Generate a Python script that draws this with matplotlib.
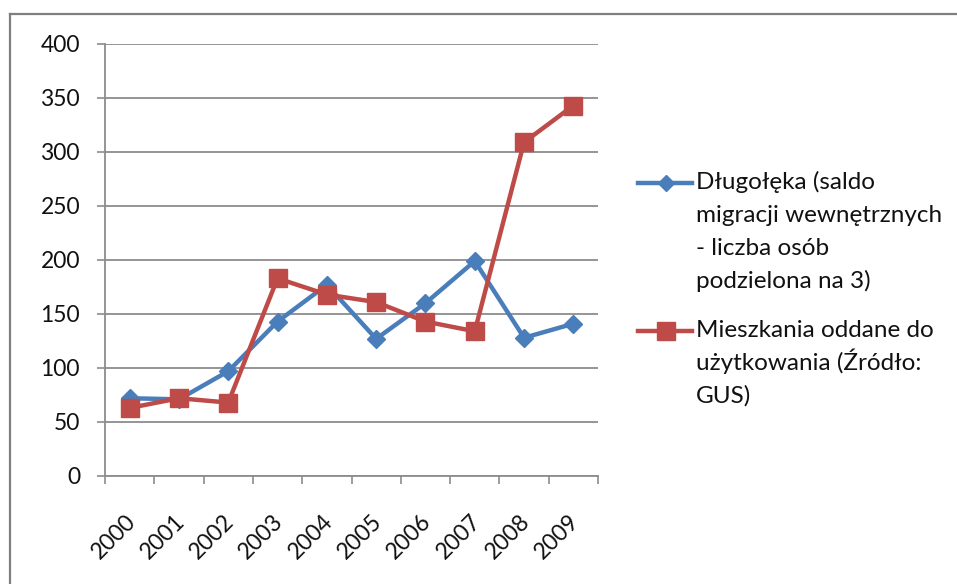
import matplotlib
matplotlib.use("Agg")
import matplotlib.pyplot as plt
from matplotlib.lines import Line2D
from matplotlib.transforms import ScaledTranslation
import numpy as np

years = ["2000", "2001", "2002", "2003", "2004", "2005", "2006", "2007", "2008", "2009"]
dlugoleka = [72, 71, 97, 143, 177, 127, 160, 199, 128, 141]
mieszkania = [63, 72, 68, 183, 168, 161, 143, 134, 309, 343]
legend_blue = ["Długołęka (saldo", "migracji wewnętrznych", "- liczba osób", "podzielona na 3)"]
legend_red = ["Mieszkania oddane do", "użytkowania (Źródło:", "GUS)"]
yticks = [0, 50, 100, 150, 200, 250, 300, 350, 400]

BLUE = "#4A7EBB"
RED = "#BE4B48"
GRID = "#8C8C8C"
TXT = "#111111"
FS = 16.5
FS_LEG = 17.5

plt.rcParams['font.family'] = ['Lato', 'DejaVu Sans']

W, H = 957, 584
fig = plt.figure(figsize=(W / 100, H / 100), dpi=100)
fig.patch.set_facecolor("white")

def fx(px):
    return px / W

def fy(py):
    return 1 - py / H

ax = fig.add_axes([fx(105), fy(476), fx(598) - fx(105), fy(44) - fy(476)])
x = np.arange(len(years))
ax.plot(x, dlugoleka, color=BLUE, lw=3.2, marker="D", ms=9.5, zorder=3)
ax.plot(x, mieszkania, color=RED, lw=3.2, marker="s", ms=12.5, zorder=4)

ax.set_xlim(-0.5, len(years) - 0.5)
ax.set_ylim(0, 400)
ax.set_yticks(yticks)
ax.set_yticklabels([str(v) for v in yticks])
ax.yaxis.grid(True, color=GRID, lw=1.3)
ax.set_axisbelow(True)
ax.tick_params(axis="y", length=6, width=1.2, color=GRID, pad=12, labelsize=FS, labelcolor=TXT)

ax.set_xticks(x)
ax.set_xticklabels(years, rotation=45, ha="right", rotation_mode="anchor")
ax.tick_params(axis="x", which="major", length=0, pad=25, labelsize=FS, labelcolor=TXT)
offset = ScaledTranslation(-5 / 100, 0, fig.dpi_scale_trans)
for lab in ax.get_xticklabels():
    lab.set_transform(lab.get_transform() + offset)
ax.set_xticks(np.arange(-0.5, len(years), 1.0), minor=True)
ax.tick_params(axis="x", which="minor", length=6, width=1.2, color=GRID)

for side in ["top", "right"]:
    ax.spines[side].set_visible(False)
for side in ["left", "bottom"]:
    ax.spines[side].set_color(GRID)
    ax.spines[side].set_linewidth(1.3)

# legend
def legend_entry(y_px, color, marker, ms, lines):
    fig.add_artist(Line2D([fx(638), fx(692)], [fy(y_px), fy(y_px)], color=color, lw=3.2,
                          transform=fig.transFigure))
    fig.add_artist(Line2D([fx(666)], [fy(y_px)], color=color, marker=marker, ms=ms, lw=0,
                          transform=fig.transFigure))
    for i, t in enumerate(lines):
        fig.text(fx(696), fy(y_px + 6 + i * 33), t, fontsize=FS_LEG, color=TXT,
                 ha="left", va="baseline")

legend_entry(183, BLUE, "D", 8, legend_blue)
legend_entry(331, RED, "s", 12.5, legend_red)

# outer border (top and left visible)
fig.add_artist(Line2D([fx(10), fx(960)], [fy(14), fy(14)], color="#7F7F7F", lw=1.6,
                      transform=fig.transFigure))
fig.add_artist(Line2D([fx(10), fx(10)], [fy(14), fy(590)], color="#7F7F7F", lw=1.6,
                      transform=fig.transFigure))

fig.savefig("out.png", dpi=100)
